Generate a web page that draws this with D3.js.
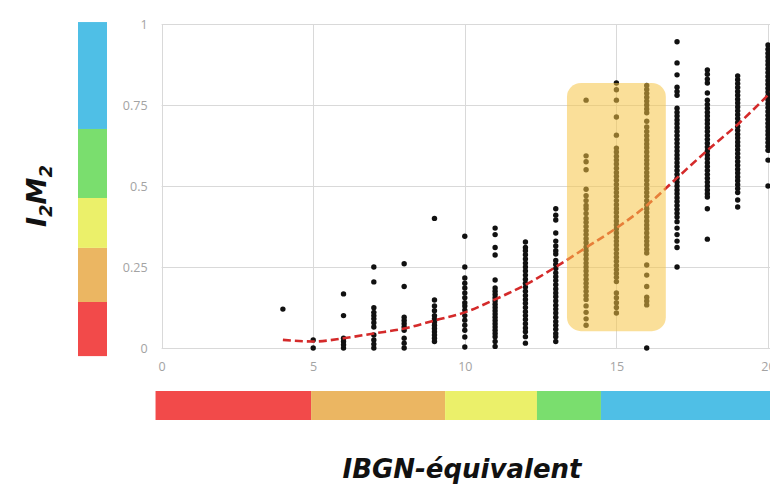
<!doctype html>
<html lang="fr">
<head>
  <meta charset="utf-8">
  <title>I2M2 vs IBGN-équivalent</title>
  <script src="https://cdn.jsdelivr.net/npm/d3@7"></script>
  <style>
    body{margin:0;background:#fff}
    .tick text{font-family:"Open Sans",sans-serif;font-size:12.5px;fill:#a3a3a3}
    .title{font-family:"DejaVu Sans",sans-serif;font-weight:bold;font-style:italic;fill:#111}
  </style>
</head>
<body>
<div id="chart"></div>
<script>
// x = IBGN-équivalent (integer classes), y = I2M2 values
var cols = [4,5,6,7,8,9,10,11,12,13,14,15,16,17,18,19,20];
var vals = [
  [0.12],
  [0.0,0.025],
  [0.167,0.1,0.03,0.02,0.01,0.0],
  [0.25,0.204,0.124,0.11,0.1,0.09,0.078,0.065,0.04,0.025,0.012,0.0],
  [0.26,0.19,0.095,0.085,0.075,0.065,0.055,0.03,0.015,0.0],
  [0.4,0.148,0.13,0.115,0.1,0.09,0.08,0.07,0.06,0.05,0.04,0.03,0.02],
  [0.345,0.25,0.216,0.2,0.185,0.17,0.155,0.14,0.13,0.117,0.1,0.086,0.07,0.055,0.034,0.003],
  [0.37,0.35,0.31,0.287,0.21,0.185,0.175,0.165,0.155,0.145,0.135,0.125,0.115,0.105,0.095,0.085,0.075,0.065,0.055,0.045,0.035,0.02,0.005],
  [0.327,0.31,0.3,0.288,0.275,0.262,0.25,0.238,0.225,0.212,0.2,0.188,0.175,0.162,0.15,0.138,0.125,0.112,0.1,0.088,0.075,0.062,0.05,0.035,0.015],
  [0.43,0.41,0.395,0.355,0.33,0.315,0.3,0.29,0.27,0.258,0.245,0.232,0.22,0.208,0.195,0.182,0.17,0.158,0.145,0.132,0.12,0.108,0.095,0.082,0.07,0.058,0.045,0.035,0.02],
  [0.765,0.593,0.575,0.55,0.49,0.47,0.455,0.44,0.43,0.415,0.4,0.388,0.375,0.362,0.35,0.337,0.325,0.312,0.3,0.288,0.275,0.262,0.25,0.238,0.225,0.212,0.2,0.188,0.175,0.162,0.15,0.13,0.11,0.09,0.07],
  [0.818,0.797,0.765,0.713,0.657,0.617,0.605,0.592,0.58,0.568,0.555,0.542,0.53,0.518,0.505,0.492,0.48,0.468,0.455,0.442,0.43,0.418,0.405,0.392,0.38,0.368,0.355,0.342,0.33,0.318,0.305,0.292,0.28,0.268,0.255,0.242,0.23,0.218,0.205,0.17,0.155,0.14,0.125,0.108],
  [0.81,0.798,0.786,0.774,0.762,0.75,0.738,0.726,0.7,0.682,0.668,0.655,0.642,0.63,0.618,0.605,0.592,0.58,0.568,0.555,0.542,0.53,0.518,0.505,0.492,0.48,0.468,0.455,0.442,0.43,0.418,0.405,0.392,0.38,0.368,0.355,0.342,0.33,0.318,0.305,0.293,0.256,0.225,0.19,0.157,0.145,0.133,0.0],
  [0.945,0.88,0.843,0.805,0.792,0.78,0.74,0.728,0.716,0.704,0.692,0.68,0.668,0.656,0.644,0.632,0.62,0.608,0.596,0.584,0.572,0.56,0.548,0.536,0.524,0.512,0.5,0.488,0.476,0.464,0.452,0.44,0.428,0.416,0.404,0.39,0.37,0.35,0.33,0.31,0.25],
  [0.858,0.845,0.83,0.818,0.787,0.765,0.752,0.74,0.728,0.716,0.704,0.692,0.68,0.668,0.656,0.644,0.632,0.62,0.608,0.596,0.584,0.572,0.56,0.548,0.536,0.524,0.512,0.5,0.488,0.476,0.466,0.43,0.336],
  [0.84,0.828,0.816,0.804,0.792,0.78,0.768,0.756,0.744,0.732,0.72,0.708,0.696,0.684,0.672,0.66,0.648,0.636,0.624,0.612,0.6,0.588,0.576,0.564,0.552,0.54,0.528,0.516,0.504,0.492,0.48,0.457,0.435],
  [0.935,0.922,0.91,0.898,0.886,0.874,0.862,0.85,0.838,0.826,0.814,0.802,0.79,0.778,0.766,0.754,0.742,0.73,0.718,0.706,0.694,0.682,0.67,0.658,0.646,0.634,0.622,0.61,0.58,0.5]
];
// dashed trend curve, read point by point
var trendX = [4,5,6,7,8,9,10,11,12,13,14,15,16,17,18,19,20.1];
var trendY = [0.025,0.02,0.03,0.045,0.06,0.085,0.11,0.15,0.195,0.25,0.31,0.37,0.44,0.525,0.61,0.69,0.79];
// highlighted columns (x range, y range)
var hlX = [13.37,16.63];
var hlY = [0.052,0.818];
// class bands
var bandColors = ["#f24a4a","#ebb662","#ebf06a","#7ade6e","#4fbfe6"];
var xBreaks = [-0.2,4.93,9.35,12.38,14.49,20.5];
var yBreaks = [-0.025,0.142,0.309,0.463,0.676,1.006];
var xTicks = [0,5,10,15,20];
var yTicks = [0,0.25,0.5,0.75,1];

var W = 770, H = 486;
var x = d3.scaleLinear().domain([0,20]).range([161.6,768]);
var y = d3.scaleLinear().domain([0,1]).range([348,24]);

var svg = d3.select("#chart").append("svg").attr("width",W).attr("height",H);

// grid
var grid = svg.append("g");
grid.selectAll("line.h").data(yTicks).enter().append("line")
  .attr("x1",x(0)).attr("x2",x(20.3)).attr("y1",function(d){return y(d)+0.5;}).attr("y2",function(d){return y(d)+0.5;})
  .attr("stroke","#d9d9d9").attr("stroke-width",1);
grid.selectAll("line.v").data(xTicks).enter().append("line")
  .attr("y1",y(1)).attr("y2",y(0)).attr("x1",function(d){return Math.round(x(d))+0.5;}).attr("x2",function(d){return Math.round(x(d))+0.5;})
  .attr("stroke","#d9d9d9").attr("stroke-width",1);

// axes labels (no lines, just tick text)
var yAxis = d3.axisLeft(y).tickValues(yTicks).tickSize(0).tickPadding(14).tickFormat(function(d){return d3.format("")(d);});
svg.append("g").attr("transform","translate("+x(0)+",0)").call(yAxis).call(function(g){g.select(".domain").remove();});
var xAxis = d3.axisBottom(x).tickValues(xTicks).tickSize(0).tickPadding(14);
svg.append("g").attr("transform","translate(0,"+y(0)+")").call(xAxis).call(function(g){g.select(".domain").remove();});

// dots
var pts = [];
cols.forEach(function(c,i){ vals[i].forEach(function(v){ pts.push([c,v]); }); });
svg.append("g").selectAll("circle").data(pts).enter().append("circle")
  .attr("cx",function(d){return x(d[0]);}).attr("cy",function(d){return y(d[1]);})
  .attr("r",2.7).attr("fill","#111");

// trend
var line = d3.line().x(function(d){return x(d[0]);}).y(function(d){return y(d[1]);}).curve(d3.curveMonotoneX);
svg.append("path").datum(d3.zip(trendX,trendY)).attr("d",line)
  .attr("fill","none").attr("stroke","#d42a2a").attr("stroke-width",2.6).attr("stroke-dasharray","8,4");

// highlight box
svg.append("rect")
  .attr("x",x(hlX[0])).attr("width",x(hlX[1])-x(hlX[0]))
  .attr("y",y(hlY[1])).attr("height",y(hlY[0])-y(hlY[1]))
  .attr("rx",14).attr("fill","#f5c445").attr("opacity",0.55);

// left class bar
svg.append("g").selectAll("rect").data(bandColors).enter().append("rect")
  .attr("x",78).attr("width",29)
  .attr("y",function(d,i){return y(yBreaks[i+1]);})
  .attr("height",function(d,i){return y(yBreaks[i])-y(yBreaks[i+1]);})
  .attr("fill",function(d){return d;});

// bottom class bar
svg.append("g").selectAll("rect").data(bandColors).enter().append("rect")
  .attr("y",391).attr("height",29)
  .attr("x",function(d,i){return x(xBreaks[i]);})
  .attr("width",function(d,i){return x(xBreaks[i+1])-x(xBreaks[i]);})
  .attr("fill",function(d){return d;});

// titles
var yt = svg.append("text").attr("class","title").attr("font-size",27)
  .attr("transform","translate(46,196) rotate(-90)").attr("text-anchor","middle");
yt.append("tspan").text("I");
yt.append("tspan").attr("font-size",18).attr("dy",6).text("2");
yt.append("tspan").attr("dy",-6).text("M");
yt.append("tspan").attr("font-size",18).attr("dy",6).text("2");

svg.append("text").attr("class","title").attr("font-size",26)
  .attr("x",462).attr("y",478).attr("text-anchor","middle").text("IBGN-équivalent");
</script>
</body>
</html>
